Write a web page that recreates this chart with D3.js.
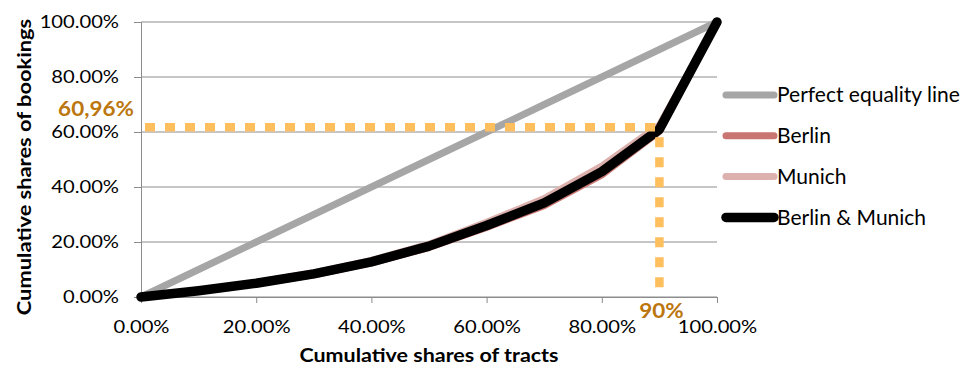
<!DOCTYPE html>
<html>
<head>
<meta charset="utf-8">
<script src="https://cdn.jsdelivr.net/npm/d3@7"></script>
<style>
  html, body { margin: 0; padding: 0; background: #fff; }
  svg { display: block; font-family: Lato, "Open Sans", sans-serif; }
</style>
</head>
<body>
<svg id="chart" width="962" height="369"></svg>
<script>
// Cumulative shares of tracts (x) against cumulative shares of bookings (y)
const shares = [0, 0.1, 0.2, 0.3, 0.4, 0.5, 0.6, 0.7, 0.8, 0.9, 1.0];
const equality = [0, 0.1, 0.2, 0.3, 0.4, 0.5, 0.6, 0.7, 0.8, 0.9, 1.0];
const berlin = [0, 0.022, 0.048, 0.081, 0.124, 0.180, 0.253, 0.332, 0.444, 0.602, 1.0];
const munich = [0, 0.024, 0.053, 0.088, 0.133, 0.192, 0.272, 0.358, 0.476, 0.625, 1.0];
const combined = [0, 0.023, 0.050, 0.084, 0.128, 0.185, 0.260, 0.342, 0.456, 0.6096, 1.0];
const seriesNames = ["Perfect equality line", "Berlin", "Munich", "Berlin & Munich"];
const tickValues = [0, 0.2, 0.4, 0.6, 0.8, 1.0];
const markShare = 0.9;
const markValue = 0.6096;
const markShareLabel = "90%";
const markValueLabel = "60,96%";

const colors = ["#a6a6a6", "#c97672", "#ddb1ae", "#000000"];
const widths = [7, 7, 7, 9.5];
const seriesValues = [equality, berlin, munich, combined];

const svg = d3.select("#chart");
const x = d3.scaleLinear().domain([0, 1]).range([141, 717]);
const y = d3.scaleLinear().domain([0, 1]).range([297, 22]);
const pct = d3.format(".2%");
const gridColor = "#8c8c8c";

// widen text horizontally around its anchor point
function widen(sel, s) {
  sel.each(function () {
    const t = d3.select(this);
    const tx = +t.attr("x") || 0;
    t.attr("x", tx / s).attr("transform", `scale(${s},1)`);
  });
}

// horizontal gridlines
svg.append("g")
  .selectAll("line")
  .data(tickValues)
  .join("line")
  .attr("x1", x(0)).attr("x2", x(1))
  .attr("y1", d => y(d)).attr("y2", d => y(d))
  .attr("stroke", gridColor).attr("stroke-width", 1);

// y axis
const yAxis = svg.append("g")
  .attr("transform", `translate(${x(0)},0)`)
  .call(d3.axisLeft(y).tickValues(tickValues).tickFormat(pct).tickSize(7).tickPadding(15));
yAxis.selectAll("line, path").attr("stroke", gridColor);
yAxis.selectAll("text").attr("font-size", 18).attr("fill", "#000").attr("font-family", "Lato")
  .call(widen, 1.12);

// x axis
const xAxis = svg.append("g")
  .attr("transform", `translate(0,${y(0)})`)
  .call(d3.axisBottom(x).tickValues(tickValues).tickFormat(pct).tickSize(6).tickPadding(17));
xAxis.selectAll("line, path").attr("stroke", gridColor);
xAxis.selectAll("text").attr("font-size", 18).attr("fill", "#000").attr("font-family", "Lato")
  .call(widen, 1.12);

// series lines
const line = d3.line()
  .x((d, i) => x(shares[i]))
  .y(d => y(d));

svg.append("g")
  .selectAll("path")
  .data(seriesValues)
  .join("path")
  .attr("d", d => line(d))
  .attr("fill", "none")
  .attr("stroke", (d, i) => colors[i])
  .attr("stroke-width", (d, i) => widths[i])
  .attr("stroke-linejoin", "round")
  .attr("stroke-linecap", "round");

// reference guides at 90% of tracts
const guide = svg.append("g")
  .attr("stroke", "#ffbf5e")
  .attr("stroke-width", 8.5)
  .attr("stroke-dasharray", "10 10")
  .attr("fill", "none");
guide.append("line")
  .attr("x1", x(0) + 4).attr("x2", x(markShare) + 5)
  .attr("y1", y(markValue) - 2).attr("y2", y(markValue) - 2);
guide.append("line")
  .attr("x1", x(markShare)).attr("x2", x(markShare))
  .attr("y1", y(markValue) + 8).attr("y2", y(0));

svg.append("text")
  .attr("x", 96).attr("y", 116)
  .attr("text-anchor", "middle")
  .attr("font-size", 21).attr("font-weight", "bold")
  .attr("fill", "#bb760e")
  .text(markValueLabel)
  .call(widen, 1.07);
svg.append("text")
  .attr("x", x(markShare) + 2).attr("y", 318)
  .attr("text-anchor", "middle")
  .attr("font-size", 21).attr("font-weight", "bold")
  .attr("fill", "#bb760e")
  .text(markShareLabel)
  .call(widen, 1.07);

// axis titles
svg.append("text")
  .attr("x", (x(0) + x(1)) / 2).attr("y", 362)
  .attr("text-anchor", "middle")
  .attr("font-size", 19).attr("font-weight", "bold")
  .text("Cumulative shares of tracts")
  .call(widen, 1.13);
svg.append("g")
  .attr("transform", "translate(31,167) rotate(-90)")
  .append("text")
  .attr("text-anchor", "middle")
  .attr("font-size", 19).attr("font-weight", "bold")
  .text("Cumulative shares of bookings")
  .call(widen, 1.15);

// legend
const legend = svg.append("g")
  .selectAll("g")
  .data(seriesNames)
  .join("g")
  .attr("transform", (d, i) => `translate(726,${95 + i * 40.8})`);
legend.append("line")
  .attr("x1", 0).attr("x2", 48)
  .attr("stroke", (d, i) => colors[i])
  .attr("stroke-width", (d, i) => widths[i])
  .attr("stroke-linecap", "round");
legend.append("text")
  .attr("x", 51).attr("dy", "0.35em")
  .attr("font-size", 21)
  .text(d => d);
</script>
</body>
</html>
